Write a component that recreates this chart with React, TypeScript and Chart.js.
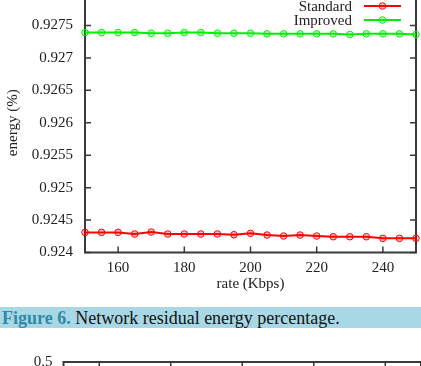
import React, { useEffect, useRef } from 'react';
import { Chart, registerables } from 'chart.js';

Chart.register(...registerables);

// ---- data ----
const rates = [150, 155, 160, 165, 170, 175, 180, 185, 190, 195, 200, 205, 210, 215, 220, 225, 230, 235, 240, 245, 250];
const standard = [0.92431, 0.92431, 0.92431, 0.924285, 0.924315, 0.924285, 0.924285, 0.924285, 0.924285, 0.924274, 0.924295, 0.924269, 0.924254, 0.924269, 0.924254, 0.924243, 0.924243, 0.924243, 0.924218, 0.924218, 0.924218];
const improved = [0.92739, 0.92739, 0.92739, 0.92739, 0.92738, 0.92738, 0.92739, 0.92739, 0.92738, 0.92738, 0.92738, 0.92737, 0.92737, 0.92737, 0.92737, 0.92737, 0.92736, 0.92737, 0.92737, 0.92737, 0.92736];
const seriesLabels = ['Standard', 'Improved'];
const seriesColors = ['#ff0000', '#00f000'];
const seriesFills = ['rgba(255,0,0,0.25)', 'rgba(0,240,0,0.25)'];
const yTicks = [0.924, 0.9245, 0.925, 0.9255, 0.926, 0.9265, 0.927, 0.9275];
const xTicks = [160, 180, 200, 220, 240];
const xTitle = 'rate (Kbps)';
const yTitle = 'energy (%)';
const captionLabel = 'Figure 6.';
const captionText = ' Network residual energy percentage.';
const nextYTicks = [0, 0.1, 0.2, 0.3, 0.4, 0.5];

const FONT = '"Liberation Serif", "Times New Roman", serif';

const framePlugin = {
  id: 'gnuFrame',
  beforeDatasetsDraw(chart: any) {
    const { ctx, chartArea: a, scales } = chart;
    ctx.save();
    ctx.strokeStyle = '#3a3a3a';
    ctx.lineWidth = 2;
    ctx.strokeRect(a.left, a.top, a.right - a.left, a.bottom - a.top);
    const tl = 6;
    ctx.lineWidth = 1.5;
    ctx.beginPath();
    scales.x.ticks.forEach((t: any) => {
      const px = scales.x.getPixelForValue(t.value);
      ctx.moveTo(px, a.bottom);
      ctx.lineTo(px, a.bottom - tl);
      ctx.moveTo(px, a.top);
      ctx.lineTo(px, a.top + tl);
    });
    scales.y.ticks.forEach((t: any) => {
      const py = scales.y.getPixelForValue(t.value);
      ctx.moveTo(a.left, py);
      ctx.lineTo(a.left + tl, py);
      ctx.moveTo(a.right, py);
      ctx.lineTo(a.right - tl, py);
    });
    ctx.stroke();
    ctx.restore();
  },
};

const legendPlugin = {
  id: 'gnuLegend',
  afterDraw(chart: any) {
    const { ctx, chartArea: a } = chart;
    const ds = chart.data.datasets;
    if (!ds.length) return;
    ctx.save();
    ctx.font = `15px ${FONT}`;
    ctx.textAlign = 'right';
    ctx.textBaseline = 'middle';
    ds.forEach((d: any, i: number) => {
      const y = a.top + 13 + i * 14;
      ctx.fillStyle = '#222';
      ctx.fillText(d.label, a.right - 64, y + 1);
      ctx.strokeStyle = d.borderColor;
      ctx.lineWidth = 2;
      ctx.beginPath();
      ctx.moveTo(a.right - 52, y);
      ctx.lineTo(a.right - 15, y);
      ctx.stroke();
      ctx.beginPath();
      ctx.arc(a.right - 33.5, y, 3.3, 0, Math.PI * 2);
      ctx.fillStyle = d.pointBackgroundColor;
      ctx.fill();
      ctx.lineWidth = 1;
      ctx.stroke();
    });
    ctx.restore();
  },
};

const tickFont = { family: FONT, size: 15 };

export default function App() {
  const ref1 = useRef<HTMLCanvasElement>(null);
  const ref2 = useRef<HTMLCanvasElement>(null);

  useEffect(() => {
    const c1 = new Chart(ref1.current as HTMLCanvasElement, {
      type: 'line',
      data: {
        labels: rates,
        datasets: [standard, improved].map((vals, i) => ({
          label: seriesLabels[i],
          data: vals.map((v, j) => ({ x: rates[j], y: v })),
          borderColor: seriesColors[i],
          backgroundColor: seriesFills[i],
          pointBackgroundColor: seriesFills[i],
          pointBorderColor: seriesColors[i],
          pointRadius: 3.3,
          pointBorderWidth: 1,
          borderWidth: 2,
          tension: 0,
          clip: false as any,
        })),
      },
      options: {
        animation: false,
        responsive: false,
        events: [],
        layout: { padding: { top: 13, right: 3, left: 0, bottom: 0 } },
        plugins: { legend: { display: false }, tooltip: { enabled: false }, title: { display: false } },
        scales: {
          x: {
            type: 'linear',
            min: 150,
            max: 250,
            afterBuildTicks: (s: any) => { s.ticks = xTicks.map((v) => ({ value: v })); },
            afterFit: (s: any) => { s.height = 47.5; s.paddingLeft = 0; s.paddingRight = 0; },
            grid: { display: false, drawTicks: false },
            border: { display: false },
            ticks: { font: tickFont, color: '#222', padding: 7, maxRotation: 0, callback: (v: any) => String(v) },
            title: { display: true, text: xTitle, font: tickFont, color: '#222', padding: { top: 0, bottom: 7 } },
          },
          y: {
            type: 'linear',
            min: 0.924,
            max: 0.928,
            afterBuildTicks: (s: any) => { s.ticks = yTicks.map((v) => ({ value: v })); },
            afterFit: (s: any) => { s.width = 85; s.paddingTop = 0; s.paddingBottom = 0; },
            grid: { display: false, drawTicks: false },
            border: { display: false },
            ticks: { font: tickFont, color: '#222', padding: 12, callback: (v: any) => String(v) },
            title: { display: true, text: yTitle, font: tickFont, color: '#222', padding: { top: 4, bottom: 0 } },
          },
        },
      },
      plugins: [framePlugin, legendPlugin],
    } as any);

    const c2 = new Chart(ref2.current as HTMLCanvasElement, {
      type: 'line',
      data: { datasets: [] },
      options: {
        animation: false,
        responsive: false,
        events: [],
        layout: { padding: { top: 22, right: 0, left: 0, bottom: 0 } },
        plugins: { legend: { display: false }, tooltip: { enabled: false } },
        scales: {
          x: {
            type: 'linear',
            min: 150,
            max: 250,
            afterBuildTicks: (s: any) => { s.ticks = xTicks.map((v) => ({ value: v })); },
            afterFit: (s: any) => { s.height = 40; s.paddingLeft = 0; s.paddingRight = 0; },
            grid: { display: false, drawTicks: false },
            border: { display: false },
            ticks: { font: tickFont, color: '#222', padding: 7, maxRotation: 0 },
          },
          y: {
            type: 'linear',
            min: 0,
            max: 0.5,
            afterBuildTicks: (s: any) => { s.ticks = nextYTicks.map((v) => ({ value: v })); },
            afterFit: (s: any) => { s.width = 63.5; s.paddingTop = 0; s.paddingBottom = 0; },
            grid: { display: false, drawTicks: false },
            border: { display: false },
            ticks: { font: tickFont, color: '#222', padding: 11, callback: (v: any) => String(v) },
          },
        },
      },
      plugins: [framePlugin],
    } as any);

    return () => {
      c1.destroy();
      c2.destroy();
    };
  }, []);

  return (
    <div style={{ position: 'fixed', left: 0, top: 0, width: 421, height: 366, overflow: 'hidden', background: '#fff' }}>
      <canvas ref={ref1} width={421} height={320} style={{ position: 'absolute', left: 0, top: -20, width: 421, height: 320 }} />
      <div
        style={{
          position: 'absolute',
          left: 0,
          top: 306.5,
          width: 421,
          height: 21,
          background: '#a8d8e6',
          fontFamily: FONT,
          fontSize: 18,
          lineHeight: '23px',
          whiteSpace: 'nowrap',
          paddingLeft: 2,
          boxSizing: 'border-box',
          color: '#111',
        }}
      >
        <span style={{ color: '#2f8aa5', fontWeight: 'bold' }}>{captionLabel}</span>
        <span>{captionText}</span>
      </div>
      <canvas ref={ref2} width={421} height={200} style={{ position: 'absolute', left: 0, top: 340, width: 421, height: 200 }} />
    </div>
  );
}
